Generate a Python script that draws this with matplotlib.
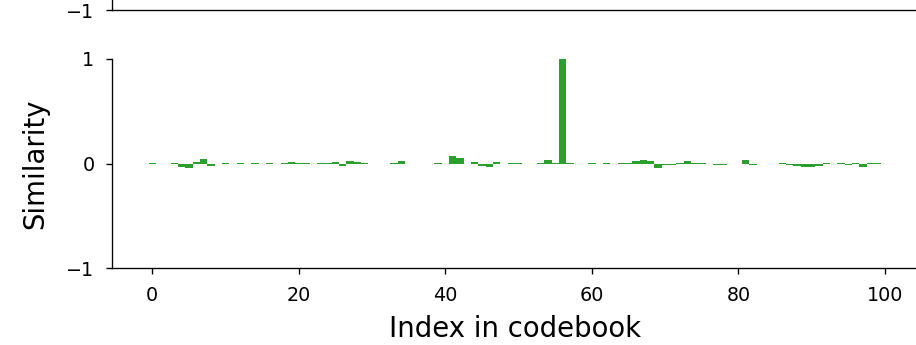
import matplotlib
matplotlib.use("Agg")
import matplotlib.pyplot as plt

# similarity of one query vector to each codebook entry
indices = list(range(100))
similarity = [
    0.005, 0, 0, 0.005, -0.03, -0.04, 0.01, 0.04, -0.02, -0.005,
    0.005, 0, 0.005, 0, 0.005, -0.005, 0.005, 0, 0.005, 0.01,
    0.008, 0.003, 0, 0.004, 0.008, 0.01, -0.02, 0.025, 0.01, 0.005,
    0, 0, -0.008, 0.005, 0.02, 0, 0, -0.005, 0, 0.005,
    0, 0.07, 0.05, 0, 0.01, -0.02, -0.03, 0.01, 0, 0.004,
    0.004, 0, -0.005, 0.004, 0.03, 0.005, 1.0, 0.004, 0, 0,
    0.005, 0, 0.005, 0, 0.004, 0.005, 0.02, 0.03, 0.02, -0.04,
    -0.01, -0.01, 0.005, 0.02, 0.005, 0.003, -0.005, -0.01, -0.01, 0,
    -0.005, 0.03, -0.01, 0, 0, 0, 0.005, -0.01, -0.02, -0.03,
    -0.03, -0.02, 0.004, 0, 0.005, -0.01, 0.005, -0.035, 0.004, 0.004,
]

W, H = 916, 345
fig = plt.figure(figsize=(W / 120, H / 120), dpi=120)

left = 112 / W
width = (918 - 112) / W

# upper panel (only its bottom edge is visible in this crop)
axu = fig.add_axes([left, (H - 10) / H, width, 0.6])
axu.set_ylim(-1, 1)
axu.set_xlim(-5.5, 104.5)
axu.set_yticks([-1])
axu.set_xticks([])
axu.tick_params(labelsize=11.5)
axu.tick_params(axis="y", pad=7)
axu.spines["top"].set_visible(False)
axu.spines["right"].set_visible(False)

ax = fig.add_axes([left, (H - 268) / H, width, (268 - 59) / H])
ax.bar(indices, similarity, width=1.0, color="#2ca02c")
ax.set_ylim(-1, 1)
ax.set_xlim(-5.5, 104.5)
ax.set_yticks([-1, 0, 1])
ax.set_xticks([0, 20, 40, 60, 80, 100])
ax.tick_params(labelsize=11.5)
ax.tick_params(axis="x", pad=7.5)
ax.tick_params(axis="y", pad=7)
ax.spines["top"].set_visible(False)
ax.spines["right"].set_visible(False)
ax.set_xlabel("Index in codebook", fontsize=16.5, labelpad=6)
ax.set_ylabel("Similarity", fontsize=16.5, labelpad=10.5)

fig.savefig("out.png", dpi=120)
